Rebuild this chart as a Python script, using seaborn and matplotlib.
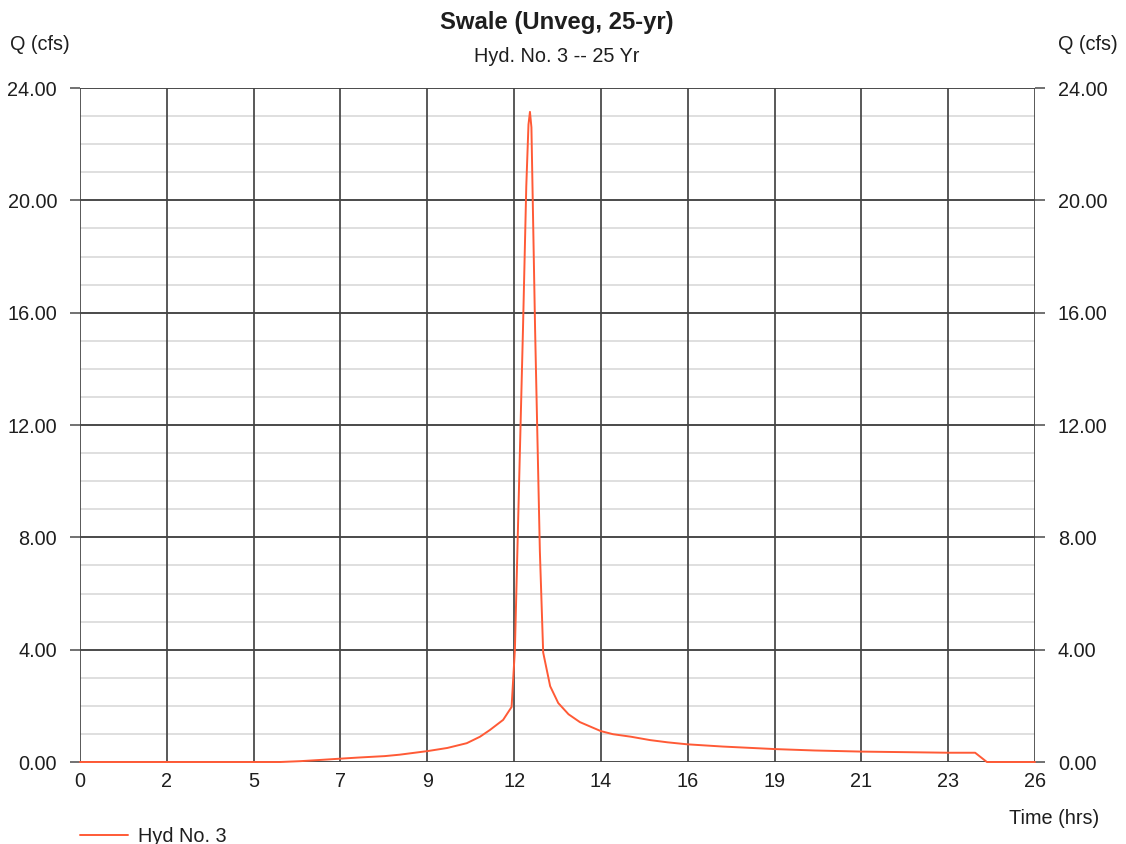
import matplotlib
matplotlib.use("Agg")
import matplotlib.pyplot as plt
import seaborn as sns
import numpy as np
import pandas as pd

# ---- data ----
hours = [0.0, 5.0, 5.45, 6.0, 6.5, 7.1, 7.6, 8.3, 8.7, 9.47, 10.0, 10.53, 10.89,
         11.16, 11.52, 11.75, 11.84, 12.06, 12.15, 12.21, 12.25, 12.29, 12.39,
         12.52, 12.61, 12.8, 13.02, 13.3, 13.61, 14.18, 14.51, 15.0, 15.52,
         16.0, 16.53, 17.5, 18.92, 20.0, 21.29, 22.5, 23.63, 24.37, 24.69, 26.0]
flow = [0.0, 0.0, 0.0, 0.03, 0.07, 0.12, 0.16, 0.21, 0.26, 0.39, 0.5, 0.67, 0.9,
        1.14, 1.5, 1.96, 4.0, 15.4, 20.5, 22.7, 23.15, 22.6, 15.4,
        7.5, 3.9, 2.7, 2.1, 1.7, 1.42, 1.1, 0.99, 0.9, 0.78,
        0.7, 0.63, 0.55, 0.46, 0.41, 0.37, 0.35, 0.33, 0.33, 0.0, 0.0]
x_tick_labels = ["0", "2", "5", "7", "9", "12", "14", "16", "19", "21", "23", "26"]
y_major = [0, 4, 8, 12, 16, 20, 24]
series_name = "Hyd No. 3"
title = "Swale (Unveg, 25-yr)"
subtitle = "Hyd. No. 3 -- 25 Yr"

df = pd.DataFrame({"Time (hrs)": hours, "Q (cfs)": flow, "series": series_name})

sns.set_style("white")
plt.rcParams["font.family"] = ["Liberation Sans", "DejaVu Sans"]

W, H = 1126, 844
fig = plt.figure(figsize=(W / 100, H / 100), dpi=100)
ax = fig.add_axes([80 / W, 1 - 762 / H, (1035 - 80) / W, (762 - 88) / H])

txt = "#1e1e1e"
fs = 14.3
sns.lineplot(data=df, x="Time (hrs)", y="Q (cfs)", hue="series",
             palette=["#ff5a36"], linewidth=1.4, ax=ax, zorder=5, legend=True)
for ln in ax.get_lines():
    ln.set_clip_on(False)

ax.set_xlim(0, 26)
ax.set_ylim(0, 24)
xt = np.linspace(0, 26, len(x_tick_labels))
ax.set_xticks(xt)
ax.set_xticklabels(x_tick_labels)
ax.set_yticks(y_major)
ax.set_yticklabels([f"{v:.2f}" for v in y_major])
ax.set_yticks(np.arange(0, 25, 1), minor=True)

ax.grid(False)
for v in np.arange(0, 25, 1):
    if v % 4 != 0:
        ax.axhline(v, color="#d9d9d9", lw=1.2, zorder=1)
for v in y_major:
    ax.axhline(v, color="#333333", lw=1.25, zorder=2)
for v in xt:
    ax.axvline(v, color="#444444", lw=1.25, zorder=2)
for s in ax.spines.values():
    s.set_visible(False)

ax.tick_params(axis="y", which="major", left=True, right=True, labelleft=True,
               labelright=True, length=7, width=1.1, color="#4a4a4a", pad=9.5,
               labelsize=fs, labelcolor=txt)
ax.tick_params(axis="y", which="minor", left=False, right=False)
ax.tick_params(axis="x", which="major", bottom=False, length=0, pad=7,
               labelsize=fs, labelcolor=txt)
ax.set_xlabel("")
ax.set_ylabel("")

def ftext(x, y, s, **kw):
    fig.text(x / W, 1 - y / H, s, color=txt, **kw)

ftext(557, 22, title, ha="center", va="center", fontsize=17.2, fontweight="bold")
ftext(557, 56, subtitle, ha="center", va="center", fontsize=14.3)
ftext(10, 45, "Q (cfs)", ha="left", va="center", fontsize=fs)
ftext(1058, 45, "Q (cfs)", ha="left", va="center", fontsize=fs)
ftext(1099, 819, "Time (hrs)", ha="right", va="center", fontsize=fs)

leg = ax.legend(loc="center left", bbox_to_anchor=(80 / W, 1 - 836 / H),
                bbox_transform=fig.transFigure, frameon=False, fontsize=fs,
                handlelength=2.4, handletextpad=0.5, borderpad=0, borderaxespad=0)
for t in leg.get_texts():
    t.set_color(txt)

fig.savefig("out.png", dpi=100)
